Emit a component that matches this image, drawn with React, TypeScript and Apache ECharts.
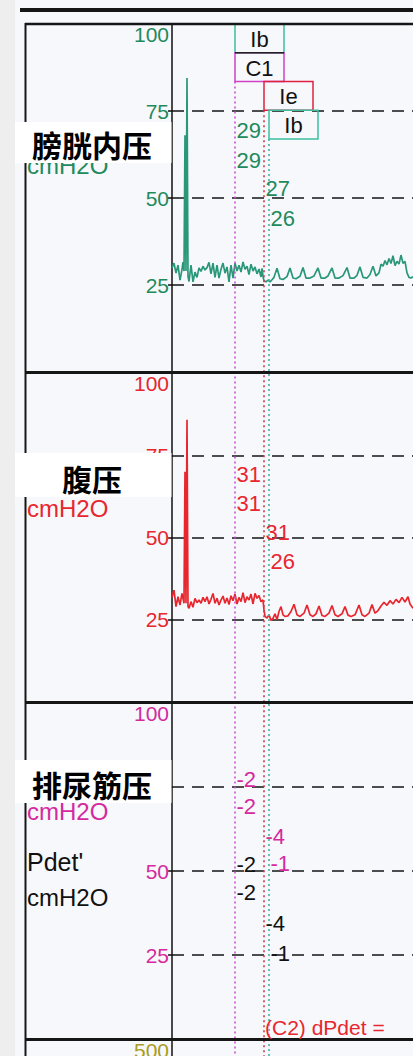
import React, { useEffect, useRef } from "react";
import * as echarts from "echarts";

// ---- data (time in s, pressure in cmH2O) ----
const X_MAX = 241;
const pressureTicks = [0, 25, 50, 75, 100];
const flowTicks = [0, 100, 200, 300, 400, 500];
const panelTitles = ["膀胱内压", "腹压", "排尿筋压"];

const pvesTrace: [number, number][] = [
  [0, 29.9], [2, 31.3], [4, 28.4], [6, 30.7], [8, 26.4], [10, 29.5], [11, 31.6], [12, 29], [13, 68], [14, 29],
  [15, 84.5], [16, 27.5], [17, 26], [19, 30.7], [21, 25.9], [23, 28.7], [25, 27.2], [27, 29.9], [29, 28.9], [31, 30.4],
  [33, 29.3], [35, 30.0], [37, 31.5], [39, 28.2], [41, 31.3], [43, 27.2], [45, 30.7], [47, 27.0], [49, 29.5], [51, 31.3],
  [53, 28.4], [55, 30.2], [57, 25.9], [59, 30.7], [61, 27.0], [63, 31.3], [65, 29.0], [67, 30.7], [69, 28.7], [71, 31.6],
  [73, 29.5], [75, 30.4], [77, 28.0], [79, 31.0], [81, 29.0], [83, 30.2], [85, 28.2], [87, 29.6], [89, 27.3], [90, 29.8],
  [91, 27.5], [92, 26.2], [94, 25.9], [96, 26.4], [98, 25.9], [100, 26.5], [102, 27.2], [105, 29.8], [108, 26.8], [111, 26.6],
  [115, 27.4], [118, 29.9], [121, 27.0], [124, 26.8], [128, 27.5], [131, 30.0], [134, 27.0], [138, 27.0], [142, 27.6], [146, 29.9],
  [149, 27.0], [153, 27.0], [156, 27.6], [160, 29.9], [163, 27.0], [167, 27.0], [171, 27.7], [175, 30.0], [178, 27.0], [182, 27.0],
  [185, 27.8], [188, 30.2], [191, 27.2], [195, 27.0], [198, 28.0], [201, 30.4], [204, 27.6], [207, 28.5], [209, 31.0], [211, 30.4],
  [213, 32.0], [215, 30.8], [217, 32.6], [219, 31.2], [221, 33.4], [223, 30.6], [225, 31.8], [227, 31.0], [229, 33.6], [231, 31.2],
  [233, 31.8], [235, 28.5], [237, 27.2], [239, 27.0], [241, 27.4],
];

const pabdTrace: [number, number][] = [
  [0, 31.8], [2, 34.0], [4, 29.0], [6, 32.0], [8, 29.5], [10, 33.0], [12, 30.0], [13, 70.0], [14, 30.0], [15, 85.8],
  [16, 29.0], [17, 28.5], [19, 30.5], [21, 28.8], [23, 31.5], [25, 30.2], [27, 31.0], [29, 30.0], [31, 31.8], [33, 30.5],
  [35, 32.0], [37, 29.8], [39, 31.2], [41, 33.0], [43, 30.0], [45, 31.5], [47, 29.5], [49, 31.0], [51, 32.2], [53, 30.0],
  [55, 31.6], [57, 29.6], [59, 32.3], [61, 30.8], [63, 32.8], [65, 29.8], [67, 31.8], [69, 30.5], [71, 33.2], [73, 30.2],
  [75, 32.0], [77, 31.0], [79, 32.8], [81, 29.8], [83, 33.0], [85, 31.5], [87, 32.4], [89, 30.5], [91, 31.0], [92, 28.0],
  [93, 26.0], [95, 25.5], [97, 26.5], [99, 24.8], [101, 25.4], [103, 26.8], [105, 25.0], [107, 27.5], [109, 29.0], [111, 26.5],
  [113, 26.0], [116, 26.2], [119, 27.5], [122, 29.7], [125, 26.5], [128, 26.0], [132, 27.0], [135, 29.5], [138, 26.5], [141, 26.0],
  [144, 26.8], [147, 29.2], [150, 26.3], [153, 26.0], [157, 27.0], [160, 29.3], [163, 26.5], [166, 26.0], [170, 26.8], [173, 29.0],
  [176, 26.4], [179, 26.0], [183, 26.5], [187, 29.5], [190, 26.5], [193, 26.0], [197, 27.0], [200, 29.6], [203, 27.0], [206, 27.8],
  [209, 29.2], [212, 30.3], [215, 29.4], [218, 30.8], [221, 29.8], [224, 31.2], [227, 30.2], [230, 31.8], [233, 30.4], [236, 32.0],
  [238, 29.8], [241, 28.5],
];

// event markers: label, time
const markerLabels = ["Ib", "C1", "Ie", "Ib"];
const markerTimes = [63, 63, 92, 97];
const cursorTimes = [63, 92, 97]; // C1, Ie, Ib
const readingCursor = [0, 0, 1, 2];
const pvesReadings = [29, 29, 27, 26];
const pabdReadings = [31, 31, 31, 26];
const pdetPrimeReadings = [-2, -2, -4, -1];
const pdetReadings = [-2, -2, -4, -1];

// ---- styling ----
const GREEN_TXT = "#1f8a5c";
const GREEN_LINE = "#2a9878";
const RED = "#e8262e";
const MAGENTA = "#d42a9e";
const OLIVE = "#a99c1e";
const CUR_COLORS = ["#cc4fd6", "#d23a4a", "#3bb5a5"];
const MARKER_COLORS = ["#3cc0a0", "#d040c8", "#e02040", "#3cc0a0"];
const LATIN = "'Liberation Sans', Arial, sans-serif";
const CJK = "'Noto Sans CJK SC', sans-serif";

const panels = [
  { top: 24, h: 348, color: GREEN_TXT, max: 100 },
  { top: 373, h: 329, color: RED, max: 100 },
  { top: 703, h: 336, color: MAGENTA, max: 100 },
  { top: 1040, h: 340, color: OLIVE, max: 500 },
];

function buildOption(): any {
  return {
    animation: false,
    backgroundColor: "#f7f8fc",
    grid: panels.map((p) => ({
      left: 172, top: p.top, width: 241, height: p.h, containLabel: false, outerBoundsMode: "none",
    })),
    xAxis: panels.map((_, i) => ({
      gridIndex: i, type: "value", min: 0, max: X_MAX, show: false,
    })),
    yAxis: panels.map((p, i) => {
      const ticks = p.max === 100 ? pressureTicks : flowTicks;
      const top = ticks[ticks.length - 1];
      return {
        gridIndex: i,
        type: "value",
        min: ticks[0],
        max: top,
        interval: ticks[1] - ticks[0],
        axisLine: { show: true, lineStyle: { color: "#111", width: 1.5 } },
        axisTick: { show: true, length: 4, lineStyle: { color: "#111", width: 1.5 } },
        axisLabel: {
          color: p.color, fontSize: 21, fontFamily: LATIN, margin: 3,
          formatter: (v: number) => (v === 0 || (p.max !== 100 && v !== top) ? "" : String(v)),
          verticalAlignMaxLabel: "top",
        },
        splitLine: {
          show: p.max === 100,
          lineStyle: { color: "#151515", width: 1.7, type: [12, 8] },
        },
      };
    }),
    series: [
      {
        type: "line", xAxisIndex: 0, yAxisIndex: 0, data: pvesTrace, showSymbol: false, symbol: "none",
        lineStyle: { color: GREEN_LINE, width: 1.7 }, itemStyle: { color: GREEN_LINE }, z: 3,
      },
      {
        type: "line", xAxisIndex: 1, yAxisIndex: 1, data: pabdTrace, showSymbol: false, symbol: "none",
        lineStyle: { color: RED, width: 1.7 }, itemStyle: { color: RED }, z: 3,
      },
    ],
  };
}

function txt(text: string, x: number, y: number, fill: string, fontSize: number, opts: any = {}) {
  return {
    type: "text", x, y, z: opts.z ?? 70, silent: true,
    style: {
      text, fill, fontSize, fontFamily: opts.font ?? LATIN, fontWeight: opts.weight ?? "normal",
      align: opts.align ?? "left", verticalAlign: "middle",
      textAlign: opts.align ?? "left", textVerticalAlign: "middle",
    },
  };
}

function hline(x1: number, x2: number, y: number, w: number, z = 60) {
  return { type: "line", z, silent: true, shape: { x1, y1: y, x2, y2: y }, style: { stroke: "#161616", lineWidth: w } };
}

export default function App() {
  const ref = useRef<HTMLDivElement>(null);
  useEffect(() => {
    const chart = echarts.init(ref.current!, null, { renderer: "svg" });
    chart.setOption(buildOption());
    const xp = (t: number) => chart.convertToPixel({ xAxisIndex: 0 }, t) as unknown as number;

    const els: any[] = [];
    // scanner strip
    els.push({ type: "rect", z: -1, silent: true, shape: { x: 0, y: 0, width: 15, height: 1056 }, style: { fill: "#eeeeee" } });
    // frame lines
    els.push(hline(20, 413, 10, 4));
    els.push(hline(25, 413, 24, 2.5));
    els.push(hline(25, 413, 372.5, 3));
    els.push(hline(25, 413, 702.5, 3));
    els.push(hline(25, 413, 1039.5, 3));
    els.push({ type: "line", z: 60, silent: true, shape: { x1: 25.5, y1: 23, x2: 25.5, y2: 1056 }, style: { stroke: "#161616", lineWidth: 2 } });

    // marker boxes
    const rowH = 28.75;
    markerLabels.forEach((lab, r) => {
      const x = xp(markerTimes[r]);
      const y = 24 + r * rowH;
      els.push({
        type: "rect", z: 45 + r, silent: true, shape: { x, y, width: 49, height: rowH },
        style: { fill: "transparent", stroke: MARKER_COLORS[r], lineWidth: 1.5 },
      });
      els.push(txt(lab, x + 24.5, y + rowH / 2 + 1, "#111", 22, { align: "center", z: 55 }));
    });
    els.push({ type: "line", z: 50, silent: true, shape: { x1: xp(markerTimes[0]), y1: 24 + rowH, x2: xp(markerTimes[0]) + 49, y2: 24 + rowH }, style: { stroke: "#222", lineWidth: 1.5 } });

    // cursor lines
    const curTop = [24 + 2 * rowH, 24 + 3 * rowH, 24 + 4 * rowH];
    cursorTimes.forEach((t, i) => {
      const x = xp(t);
      els.push({
        type: "line", z: 40, silent: true, shape: { x1: x, y1: curTop[i], x2: x, y2: 1056 },
        style: { stroke: CUR_COLORS[i], lineWidth: 1.6, lineDash: [2, 3] },
      });
    });

    // readings
    const readingX = (k: number) => xp(cursorTimes[readingCursor[k]]) + 1.5;
    const groups = [
      { vals: pvesReadings, ys: [130, 160, 188, 218], color: GREEN_TXT },
      { vals: pabdReadings, ys: [474, 503, 532, 561], color: RED },
      { vals: pdetPrimeReadings, ys: [779, 806, 836, 863], color: MAGENTA },
      { vals: pdetReadings, ys: [864, 892, 923, 953], color: "#111" },
    ];
    groups.forEach((g) => {
      g.vals.forEach((v, k) => {
        els.push(txt(String(v), readingX(k), g.ys[k], g.color, 22));
      });
    });
    els.push(txt("(C2) dPdet =", xp(cursorTimes[1]) + 1, 1027, RED, 21));

    // channel unit labels (partly hidden by title boxes)
    els.push(txt("cmH2O", 27, 165, GREEN_TXT, 24, { z: 50 }));
    els.push(txt("cmH2O", 27, 508, RED, 24, { z: 50 }));
    els.push(txt("cmH2O", 27, 811, MAGENTA, 24, { z: 50 }));
    els.push(txt("Pdet'", 27, 862, "#111", 25, { z: 50 }));
    els.push(txt("cmH2O", 27, 897, "#111", 24, { z: 50 }));

    // title boxes
    const boxes = [
      { y: 122, h: 41, ty: 144 },
      { y: 453, h: 44, ty: 478 },
      { y: 760, h: 43, ty: 784 },
    ];
    boxes.forEach((b, i) => {
      els.push({ type: "rect", z: 100, silent: true, shape: { x: 15, y: b.y, width: 156.5, height: b.h }, style: { fill: "#ffffff" } });
      els.push(txt(panelTitles[i], 92, b.ty, "#000", 30, { align: "center", font: CJK, weight: "bold", z: 101 }));
    });

    chart.setOption({ graphic: { elements: els } });
    return () => chart.dispose();
  }, []);
  return <div ref={ref} style={{ position: "fixed", left: 0, top: 0, width: 413, height: 1056 }} />;
}
